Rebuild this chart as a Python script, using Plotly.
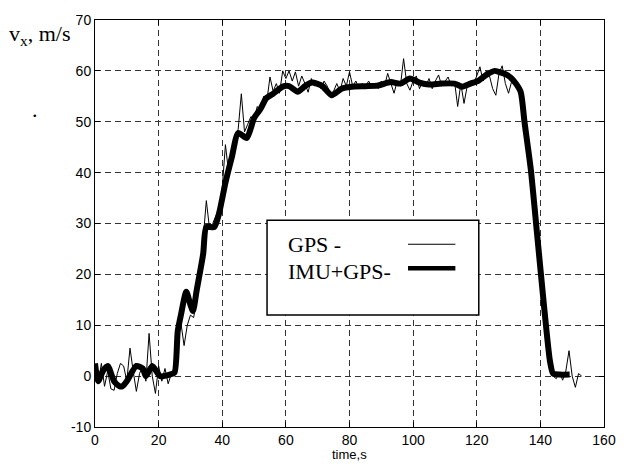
import plotly.graph_objects as go

# GPS raw samples (1 s step, t = 0..153)
gps_t = list(range(0, 154))
gps_v = [
    2.5, -1.5, 2.5, -2, 1, -2.5, -2.8, 0.5, 2.5, 2,
    -1, 5.5, 1, -3, 0.5, 2, -1, 8.4, 0, -3.4,
    2, -1, 1.5, -1.5, 0.5, 0,
    7, 10.5, 6, 10, 12, 11.5, 15, 18.5,
    27, 34.5, 29, 30, 31.5, 33, 37, 45.5, 40, 45, 47, 48.5,
    55.5, 48, 49.5, 51, 50.5, 53, 52, 55, 54,
    58.8, 56, 57.5, 55.6, 60, 58.5, 60, 58, 59.8, 57, 59,
    57.5, 55.8, 58.5, 57, 58, 56.5, 58, 57, 55.5, 56, 57.5, 56, 58.5, 57, 59.8,
    57, 58, 56.5, 57.5, 56.8, 58, 57, 57.5, 56.5, 58, 57, 59.5, 57.5, 55.6, 58, 57, 62.4, 57.5, 56.2, 58,
    59, 56.5, 58, 57, 58.5, 56.5, 58, 59.2, 57, 58, 58.8, 57, 58,
    53, 57.5, 53.6, 57, 58, 57.5, 59, 60.8, 58, 60, 59, 56.5, 55.2, 59.5, 61, 57.5, 55.6, 58, 57.9, 56, 54.5,
    50, 45, 40, 33, 27, 21, 14.5, 8.5, 3, 0,
    -0.5, 0.8, -0.8, 1, 5, 0, -2.2, 0.5, 0,
]

# IMU+GPS fused estimate
imu_t = [0, 1, 2.5, 4, 6, 7.7, 8.6, 10, 13, 15, 16, 18, 20.5, 23.5, 25, 26, 27, 28.7, 30, 30.8,
         32, 34, 35, 37.5, 39, 41, 43, 45, 47.7, 50, 52, 53.8, 56, 59, 61, 63.7, 66, 68.2,
         71.3, 74.4, 77.5, 80.6, 85, 88.7, 93, 96, 99, 102, 105, 109, 113, 115.4, 118, 120.6,
         123, 125.6, 127, 129.8, 131.7, 133.8, 135, 137, 139, 141, 143, 144, 146, 149.2]
imu_v = [2.5, -1, 1, 2, -1, -2, -2, -1, 2, 1.5, 0, 2, 0, 0.3, 0.7, 8.8, 12, 16.6, 14, 12.8,
         17, 24, 29.3, 29.3, 32, 38, 43, 47.8, 46.8, 50.7, 52.5, 54.6, 55.5, 56.9, 57, 55.9, 57, 57.7,
         57.1, 55.2, 56.5, 56.9, 57, 57.1, 57.8, 57.5, 58.5, 57.7, 57.3, 57.5, 57.5, 56.9, 57.5, 58.1,
         59.2, 60, 59.8, 59.1, 58, 55.9, 50, 40.6, 27.7, 14.7, 3, 0.5, 0.3, 0.3]

x_ticks = [0, 20, 40, 60, 80, 100, 120, 140, 160]
y_ticks = [-10, 0, 10, 20, 30, 40, 50, 60, 70]
y_tick_labels = ["-10", "0", "10", "20", "30", "40", "50", "60", "70"]
legend_labels = ["GPS -", "IMU+GPS-"]

fig = go.Figure()
fig.add_trace(go.Scatter(x=gps_t, y=gps_v, mode="lines",
                         line=dict(color="black", width=1), showlegend=False))
fig.add_trace(go.Scatter(x=imu_t, y=imu_v, mode="lines",
                         line=dict(color="black", width=6, shape="spline", smoothing=0.6),
                         showlegend=False))

axis_common = dict(
    showline=True, linecolor="black", linewidth=1, mirror="ticks",
    ticks="inside", ticklen=5, tickcolor="black",
    showgrid=True, gridcolor="#333", gridwidth=1, griddash="6px,4px",
    zeroline=False,
    tickfont=dict(family="Liberation Sans, Arial", size=14, color="black"),
)
fig.update_xaxes(range=[0, 160], tickvals=x_ticks, **axis_common)
fig.update_yaxes(range=[-10, 70], tickvals=y_ticks, ticktext=y_tick_labels, **axis_common)

fig.update_layout(
    width=628, height=468,
    margin=dict(l=95, r=13, t=16, b=41),
    paper_bgcolor="white", plot_bgcolor="white",
    showlegend=False,
)

serif = dict(family="Liberation Serif, Times New Roman", size=22, color="black")

# legend drawn as box + sample lines
fig.add_shape(type="rect", xref="paper", yref="paper", x0=0.338, x1=0.754, y0=0.275, y1=0.508,
              line=dict(color="black", width=1.5), fillcolor="white", layer="above")
fig.add_shape(type="line", xref="paper", yref="paper", x0=0.615, x1=0.708, y0=0.449, y1=0.449,
              line=dict(color="black", width=1.2), layer="above")
fig.add_shape(type="line", xref="paper", yref="paper", x0=0.615, x1=0.708, y0=0.390, y1=0.390,
              line=dict(color="black", width=4.5), layer="above")
fig.add_annotation(xref="paper", yref="paper", x=0.376, y=0.448, xanchor="left", yanchor="middle",
                   text=legend_labels[0], showarrow=False, font=serif)
fig.add_annotation(xref="paper", yref="paper", x=0.376, y=0.382, xanchor="left", yanchor="middle",
                   text=legend_labels[1], showarrow=False, font=serif)

# axis titles
fig.add_annotation(xref="paper", yref="paper", x=-0.173, y=0.962, xanchor="left", yanchor="middle",
                   text="v<sub>x</sub>, m/s", showarrow=False, font=serif)
fig.add_annotation(xref="paper", yref="paper", x=-0.117, y=0.78, xanchor="center", yanchor="middle",
                   text=".", showarrow=False, font=serif)
fig.add_annotation(xref="paper", yref="paper", x=0.5, y=-0.068, xanchor="center", yanchor="middle",
                   text="time,s", showarrow=False,
                   font=dict(family="Liberation Sans, Arial", size=13, color="black"))

fig.write_html("out.html")
